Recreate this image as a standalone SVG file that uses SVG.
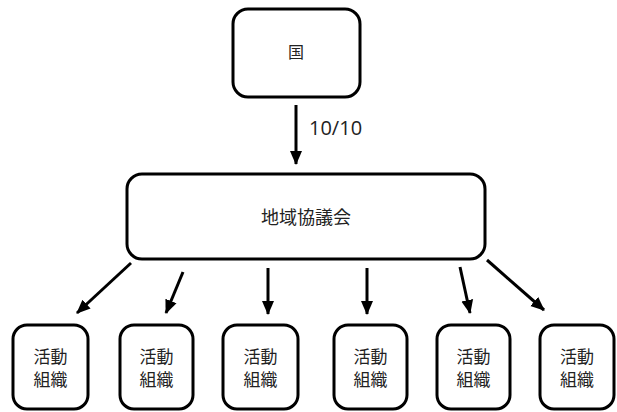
<svg xmlns="http://www.w3.org/2000/svg" width="617" height="412" viewBox="0 0 617 412">
<style>
.box{fill:#fff;stroke:#000;stroke-width:3}
.t{font-family:"Liberation Sans","Noto Sans CJK JP",sans-serif;fill:#222;text-anchor:middle}
.c{stroke:#000;stroke-width:3;fill:none;marker-end:url(#ah)}
</style>
<defs>
<marker id="ah" markerUnits="userSpaceOnUse" markerWidth="14" markerHeight="14" viewBox="0 0 14 12" refX="13" refY="6" orient="auto">
<path d="M0,0 L14,6 L0,12 Z" fill="#000"/>
</marker>
</defs>
<rect width="617" height="412" fill="#fff"/>
<g id="connectors">
<line class="c" x1="296" y1="105" x2="296" y2="164"/>
<line class="c" x1="131" y1="263" x2="77" y2="313"/>
<line class="c" x1="183" y1="272" x2="166" y2="313"/>
<line class="c" x1="268" y1="268" x2="268" y2="314"/>
<line class="c" x1="367" y1="268" x2="367" y2="314"/>
<line class="c" x1="460" y1="267" x2="470" y2="313"/>
<line class="c" x1="487" y1="260" x2="544" y2="310"/>
<text x="309" y="135" font-family="'Open Sans','Liberation Sans',sans-serif" font-size="20" fill="#222">10/10</text>
</g>
<g id="kuni">
<rect class="box" x="233" y="9" width="127" height="88" rx="15"/>
<text class="t" x="296" y="58" font-size="16">国</text>
</g>
<g id="chiiki">
<rect class="box" x="127" y="174" width="358" height="85" rx="15"/>
<text class="t" x="306" y="224" font-size="18">地域協議会</text>
</g>
<g id="org1">
<rect class="box" x="13" y="325" width="75" height="84" rx="14"/>
<text class="t" x="50.5" y="363" font-size="17">活動</text>
<text class="t" x="50.5" y="386" font-size="17">組織</text>
</g>
<g id="org2">
<rect class="box" x="120" y="325" width="73" height="84" rx="14"/>
<text class="t" x="156.5" y="363" font-size="17">活動</text>
<text class="t" x="156.5" y="386" font-size="17">組織</text>
</g>
<g id="org3">
<rect class="box" x="223" y="325" width="75" height="84" rx="14"/>
<text class="t" x="260.5" y="363" font-size="17">活動</text>
<text class="t" x="260.5" y="386" font-size="17">組織</text>
</g>
<g id="org4">
<rect class="box" x="334" y="325" width="73" height="84" rx="14"/>
<text class="t" x="370.5" y="363" font-size="17">活動</text>
<text class="t" x="370.5" y="386" font-size="17">組織</text>
</g>
<g id="org5">
<rect class="box" x="437" y="325" width="73" height="84" rx="14"/>
<text class="t" x="473.5" y="363" font-size="17">活動</text>
<text class="t" x="473.5" y="386" font-size="17">組織</text>
</g>
<g id="org6">
<rect class="box" x="540" y="325" width="74" height="84" rx="14"/>
<text class="t" x="577" y="363" font-size="17">活動</text>
<text class="t" x="577" y="386" font-size="17">組織</text>
</g>
</svg>
